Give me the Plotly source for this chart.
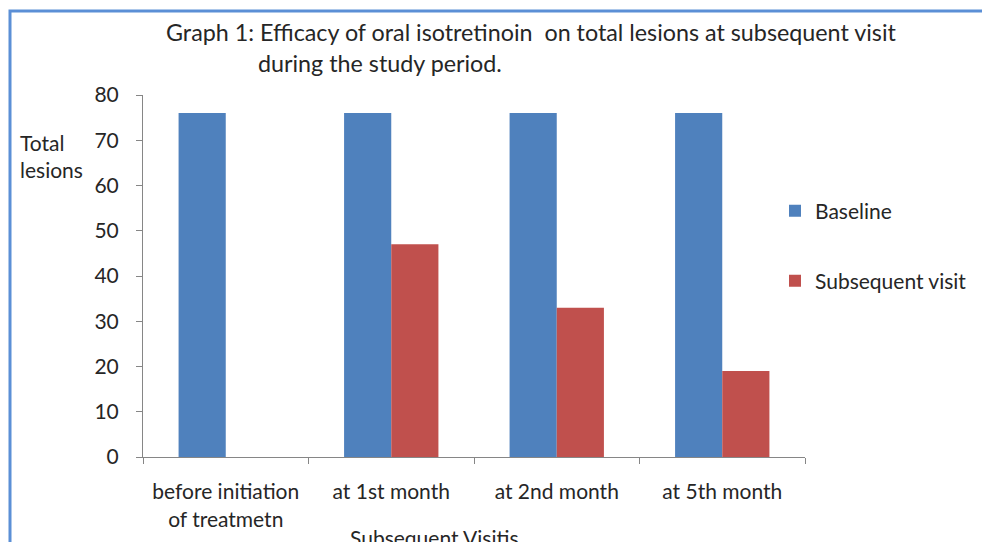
import plotly.graph_objects as go

categories = ["before initiation<br>of treatmetn", "at 1st month", "at 2nd month", "at 5th month"]
baseline = [76, 76, 76, 76]
subsequent = [None, 47, 33, 19]
series_names = ["Baseline", "Subsequent visit"]
y_ticks = [0, 10, 20, 30, 40, 50, 60, 70, 80]

W, H = 982, 542
L, R, T, B = 143, 805, 95, 457

def px(x):
    return (x - L) / (R - L)

def py(y):
    return (B - y) / (B - T)

FONT = "Lato"
TXT = "#262626"
FS = 21

fig = go.Figure()
fig.add_trace(go.Bar(x=categories, y=baseline, name=series_names[0],
                     marker=dict(color="#4F81BD", line=dict(width=0)), legend="legend"))
fig.add_trace(go.Bar(x=categories, y=subsequent, name=series_names[1],
                     marker=dict(color="#C0504D", line=dict(width=0)), legend="legend2"))

fig.update_layout(
    width=W, height=H,
    margin=dict(l=L, r=W - R, t=T, b=H - B, autoexpand=False),
    paper_bgcolor="white", plot_bgcolor="white",
    barmode="group", bargap=0.43, bargroupgap=0,
    showlegend=True,
    font=dict(family=FONT, size=FS, color=TXT),
    legend=dict(x=px(775), y=py(211), xanchor="left", yanchor="middle",
                bgcolor="rgba(0,0,0,0)", borderwidth=0, font=dict(size=FS, color=TXT)),
    legend2=dict(x=px(775), y=py(281), xanchor="left", yanchor="middle",
                 bgcolor="rgba(0,0,0,0)", borderwidth=0, font=dict(size=FS, color=TXT)),
    xaxis=dict(type="category", showline=True, linecolor="#868686", linewidth=1,
               ticks="outside", ticklen=6, tickcolor="#868686", tickson="boundaries",
               showgrid=False, zeroline=False, ticklabelstandoff=16,
               tickfont=dict(size=FS, color=TXT)),
    yaxis=dict(range=[0, 80], tickvals=y_ticks, showline=True, linecolor="#868686",
               linewidth=1, ticks="outside", ticklen=6, tickcolor="#868686",
               showgrid=False, zeroline=False, ticklabelstandoff=13,
               tickfont=dict(size=FS, color=TXT)),
)

annotations = [
    dict(text="Graph 1: Efficacy of oral isotretinoin\u00a0 on total lesions at subsequent visit",
         x=px(531), y=py(32), xanchor="center", yanchor="middle", font=dict(size=23.3, color=TXT)),
    dict(text="during the study period.",
         x=px(380), y=py(63), xanchor="center", yanchor="middle", font=dict(size=23.3, color=TXT)),
    dict(text="Total<br>lesions", x=px(18), y=py(156), xanchor="left", yanchor="middle",
         align="left", font=dict(size=FS, color=TXT)),
    dict(text="Subsequent Visitis", x=px(434), y=py(537), xanchor="center", yanchor="middle",
         font=dict(size=FS, color=TXT)),
]
for a in annotations:
    a.update(xref="paper", yref="paper", showarrow=False)
    fig.add_annotation(**a)

fig.add_shape(type="rect", xref="paper", yref="paper",
              x0=px(10), x1=px(1100), y0=py(700), y1=py(11),
              line=dict(color="#5B8FD6", width=3), fillcolor="rgba(0,0,0,0)", layer="below")

fig.write_html("out.html", config={"displayModeBar": False},
               post_script="document.body.style.margin='0';document.body.style.overflow='hidden';")
